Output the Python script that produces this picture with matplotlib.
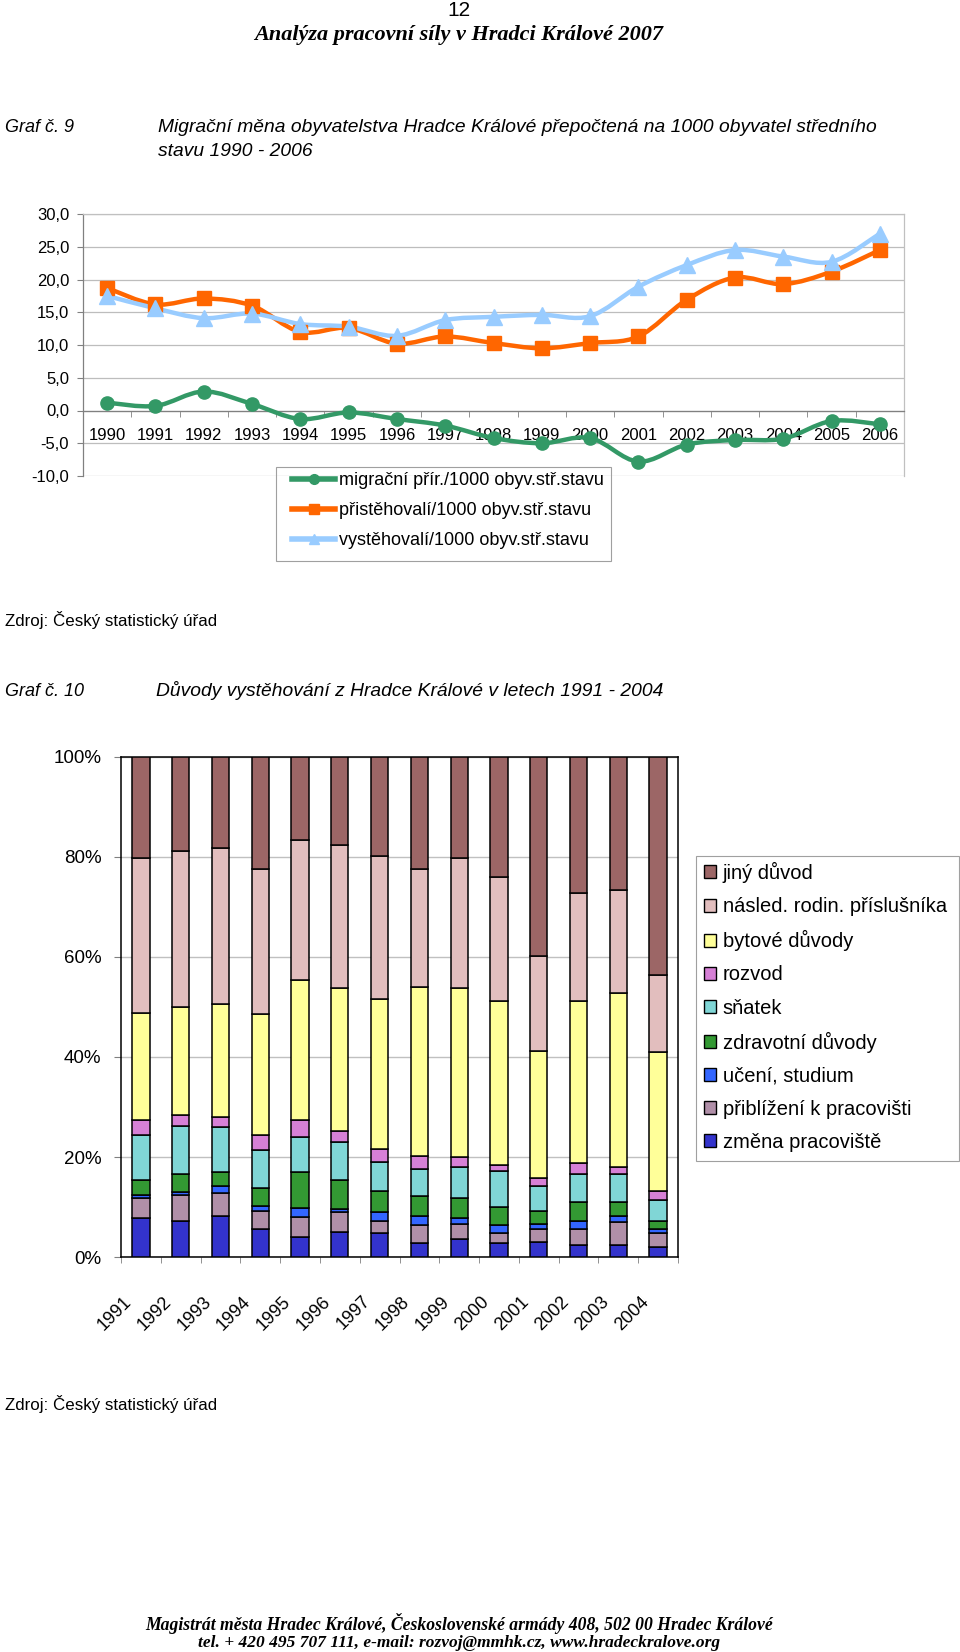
import numpy as np
import matplotlib
matplotlib.use('Agg')
import matplotlib.pyplot as plt
import matplotlib.transforms as mtransforms
from matplotlib.path import Path
from matplotlib.patches import PathPatch, Patch, Rectangle
from matplotlib.lines import Line2D

plt.rcParams['font.family'] = ['Liberation Sans', 'DejaVu Sans']

# ============================================================
# Data: Graf č. 9 (per 1000 inhabitants)
# ============================================================
roky = ['1990', '1991', '1992', '1993', '1994', '1995', '1996', '1997', '1998',
        '1999', '2000', '2001', '2002', '2003', '2004', '2005', '2006']
migracni = [1.2, 0.7, 2.9, 1.0, -1.3, -0.3, -1.3, -2.3, -4.2, -5.0, -4.2,
            -7.8, -5.2, -4.5, -4.3, -1.6, -2.1]
pristehovali = [18.7, 16.2, 17.1, 16.0, 12.0, 12.6, 10.2, 11.3, 10.3, 9.5,
                10.3, 11.3, 16.9, 20.3, 19.3, 21.2, 24.5]
vystehovali = [17.5, 15.6, 14.1, 14.8, 13.2, 12.8, 11.4, 13.8, 14.3, 14.6,
               14.4, 18.9, 22.2, 24.5, 23.5, 22.7, 27.0]
serie_nazvy = ['migrační přír./1000 obyv.stř.stavu',
               'přistěhovalí/1000 obyv.stř.stavu',
               'vystěhovalí/1000 obyv.stř.stavu']

# ============================================================
# Data: Graf č. 10 (share of reasons, %)
# ============================================================
roky2 = ['1991', '1992', '1993', '1994', '1995', '1996', '1997', '1998',
         '1999', '2000', '2001', '2002', '2003', '2004']
zmena_pracoviste = [7.9, 7.3, 8.3, 5.6, 4.0, 5.0, 4.8, 2.8, 3.7, 2.8, 3.1, 2.4, 2.4, 2.0]
priblizeni = [3.9, 5.2, 4.6, 3.6, 4.0, 4.0, 2.5, 3.6, 2.9, 2.1, 2.5, 3.2, 4.7, 2.8]
uceni = [0.6, 0.5, 1.3, 1.0, 1.9, 0.7, 1.7, 1.9, 1.3, 1.5, 1.1, 1.7, 1.2, 0.9]
zdravotni = [3.0, 3.7, 2.8, 3.6, 7.1, 5.8, 4.2, 3.9, 3.9, 3.6, 2.5, 3.7, 2.7, 1.6]
snatek = [8.9, 9.5, 9.1, 7.7, 7.1, 7.5, 5.8, 5.5, 6.2, 7.3, 5.0, 5.7, 5.7, 4.2]
rozvod = [3.0, 2.2, 2.0, 3.0, 3.3, 2.3, 2.6, 2.5, 2.1, 1.1, 1.6, 2.2, 1.3, 1.7]
bytove = [21.5, 21.5, 22.5, 24.1, 27.9, 28.6, 30.0, 33.8, 33.7, 32.9, 25.4, 32.4, 34.9, 27.7]
nasled = [30.9, 31.2, 31.2, 28.9, 28.1, 28.6, 28.6, 23.5, 26.0, 24.8, 18.9, 21.5, 20.6, 15.4]
jiny = [20.2, 18.9, 18.3, 22.5, 16.6, 17.6, 19.9, 22.5, 20.2, 24.0, 39.9, 27.3, 26.6, 43.7]

duvody = [zmena_pracoviste, priblizeni, uceni, zdravotni, snatek, rozvod, bytove, nasled, jiny]
duvody_nazvy = ['změna pracoviště', 'přiblížení k pracovišti', 'učení, studium',
                'zdravotní důvody', 'sňatek', 'rozvod', 'bytové důvody',
                'násled. rodin. příslušníka', 'jiný důvod']
duvody_barvy = ['#3333CC', '#B08FA8', '#3366FF', '#339933', '#80D6D6',
                '#D680D6', '#FFFF99', '#E2BEBE', '#9C6666']

# ============================================================
# Figure layout (pixel based)
# ============================================================
W, H = 960, 1652
fig = plt.figure(figsize=(W / 100, H / 100), dpi=100)
fig.patch.set_facecolor('white')


def fx(px):
    return px / W


def fy(py):
    return 1 - py / H


def smooth_path(xs, ys):
    """Excel-like smoothed line: Catmull-Rom segments as cubic Beziers"""
    n = len(xs)
    verts = [(xs[0], ys[0])]
    codes = [Path.MOVETO]
    for i in range(n - 1):
        i0, i3 = max(i - 1, 0), min(i + 2, n - 1)
        c1 = (xs[i] + (xs[i + 1] - xs[i0]) / 6, ys[i] + (ys[i + 1] - ys[i0]) / 6)
        c2 = (xs[i + 1] - (xs[i3] - xs[i]) / 6, ys[i + 1] - (ys[i3] - ys[i]) / 6)
        verts += [c1, c2, (xs[i + 1], ys[i + 1])]
        codes += [Path.CURVE4] * 3
    return Path(verts, codes)


def legend_box(x0, y0, x1, y1):
    fig.patches.append(Rectangle((fx(x0), fy(y1)), (x1 - x0) / W, (y1 - y0) / H,
                                 transform=fig.transFigure, fill=False,
                                 edgecolor='#A0A0A0', lw=0.8))


# ---------------- header texts ----------------
fig.text(fx(459), fy(11), '12', ha='center', va='center', fontsize=15)
fig.text(fx(459), fy(35), 'Analýza pracovní síly v Hradci Králové 2007', ha='center', va='center',
         family='Liberation Serif', weight='bold', style='italic', fontsize=16)
fig.text(fx(5), fy(128), 'Graf č. 9', va='center', style='italic', fontsize=13)
fig.text(fx(158), fy(128), 'Migrační měna obyvatelstva Hradce Králové přepočtená na 1000 obyvatel středního',
         va='center', style='italic', fontsize=13.9)
fig.text(fx(158), fy(151), 'stavu 1990 - 2006', va='center', style='italic', fontsize=13.9)

# ---------------- Graf 9 ----------------
ax1 = fig.add_axes([fx(83), fy(476), (904 - 83) / W, (476 - 214) / H])
x = np.arange(len(roky))
styly = [(migracni, '#339966', 'o', 9.5),
         (pristehovali, '#FF6600', 's', 10),
         (vystehovali, '#99CCFF', '^', 11)]
for vals, col, mk, ms in styly:
    ax1.add_patch(PathPatch(smooth_path(x, vals), fill=False, edgecolor=col, lw=3.2,
                            capstyle='round', joinstyle='round', zorder=3))
    ax1.plot(x, vals, ls='none', marker=mk, ms=ms, color=col, zorder=4)

ax1.set_xlim(-0.5, len(roky) - 0.5)
ax1.set_ylim(-10, 30)
yt = np.arange(-10, 31, 5)
ax1.set_yticks(yt)
ax1.set_yticklabels([f'{v:.1f}'.replace('.', ',') for v in yt])
ax1.set_xticks(x)
ax1.set_xticklabels(roky)
ax1.set_xticks(np.arange(-0.5, len(roky), 1), minor=True)
ax1.spines['bottom'].set_position(('data', 0))
ax1.spines['bottom'].set_color('#808080')
ax1.spines['left'].set_color('#808080')
ax1.spines['top'].set_color('#C0C0C0')
ax1.spines['right'].set_color('#C0C0C0')
for s in ax1.spines.values():
    s.set_linewidth(0.9)
ax1.grid(axis='y', color='#BDBDBD', lw=0.9, zorder=0)
ax1.set_axisbelow(True)
ax1.tick_params(axis='x', which='major', length=0, pad=12.5, labelsize=12)
ax1.tick_params(axis='x', which='minor', length=4, color='#808080', direction='out')
ax1.tick_params(axis='y', length=4, color='#808080', pad=6, labelsize=12)

handles1 = [Line2D([], [], color=c, lw=4, marker=m, ms=7) for _, c, m, _ in styly]
legend_box(276, 467, 611, 561)
ax1.legend(handles1, serie_nazvy, loc='upper left', bbox_to_anchor=(fx(292), fy(472)),
           bbox_transform=fig.transFigure, frameon=False, fontsize=13,
           handlelength=2.4, handletextpad=0.2, labelspacing=0.72,
           borderpad=0, borderaxespad=0)

fig.text(fx(5), fy(620), 'Zdroj: Český statistický úřad', va='center', fontsize=12.2)

# ---------------- Graf 10 ----------------
fig.text(fx(5), fy(691), 'Graf č. 10', va='center', style='italic', fontsize=13)
fig.text(fx(156), fy(691), 'Důvody vystěhování z Hradce Králové v letech 1991 - 2004',
         va='center', style='italic', fontsize=13.9)

ax2 = fig.add_axes([fx(121), fy(1257.2), (678 - 121) / W, (1257.2 - 756.6) / H])
x2 = np.arange(len(roky2))
data = np.array(duvody, dtype=float)
data = data / data.sum(axis=0) * 100
bottom = np.zeros(len(roky2))
bar_handles = []
for vals, nazev, col in zip(data, duvody_nazvy, duvody_barvy):
    ax2.bar(x2, vals, 0.435, bottom=bottom, color=col, edgecolor='black', lw=1.1, zorder=3)
    bottom += vals
    bar_handles.append(Patch(facecolor=col, edgecolor='black', lw=1.0, label=nazev))

ax2.set_xlim(-0.5, len(roky2) - 0.5)
ax2.set_ylim(0, 100)
ax2.set_yticks(np.arange(0, 101, 20))
ax2.set_yticklabels([f'{v}%' for v in range(0, 101, 20)])
ax2.set_xticks(x2)
ax2.set_xticklabels(roky2, rotation=45, ha='right', va='center', rotation_mode='anchor')
ax2.set_xticks(np.arange(-0.5, len(roky2), 1), minor=True)
ax2.grid(axis='y', color='#C0C0C0', lw=1.0, zorder=0)
ax2.set_axisbelow(True)
for s in ax2.spines.values():
    s.set_color('black')
    s.set_linewidth(1.1)
ax2.tick_params(axis='x', which='major', length=0, pad=30, labelsize=13)
ax2.tick_params(axis='x', which='minor', length=4, color='#808080', direction='out')
ax2.tick_params(axis='y', length=5, color='#808080', pad=9, labelsize=13.5)
shift = mtransforms.ScaledTranslation(-12 / 100, 0, fig.dpi_scale_trans)
for lbl in ax2.get_xticklabels():
    lbl.set_transform(lbl.get_transform() + shift)

legend_box(695.5, 855.7, 959, 1161)
ax2.legend(bar_handles[::-1], duvody_nazvy[::-1], loc='upper left',
           bbox_to_anchor=(fx(704), fy(862)), bbox_transform=fig.transFigure,
           frameon=False, fontsize=14.5, handlelength=0.62, handleheight=0.62,
           handletextpad=0.3, labelspacing=0.70, borderpad=0, borderaxespad=0)

fig.text(fx(5), fy(1404), 'Zdroj: Český statistický úřad', va='center', fontsize=12.2)

# ---------------- footer ----------------
fig.text(fx(459), fy(1624), 'Magistrát města Hradec Králové, Československé armády 408, 502 00 Hradec Králové',
         ha='center', va='center', family='Liberation Serif', weight='bold', style='italic', fontsize=12.7)
fig.text(fx(459), fy(1643), 'tel. + 420 495 707 111, e-mail: rozvoj@mmhk.cz, www.hradeckralove.org',
         ha='center', va='center', family='Liberation Serif', weight='bold', style='italic', fontsize=12.5)

fig.savefig('out.png', dpi=100)
